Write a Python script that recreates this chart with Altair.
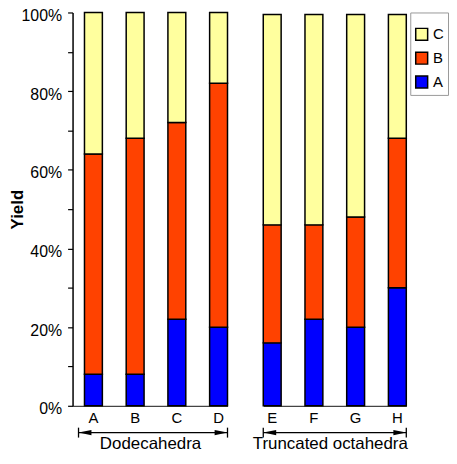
import altair as alt
import pandas as pd

categories = ["A", "B", "C", "D", "E", "F", "G", "H"]
groups = ["Dodecahedra"] * 4 + ["Truncated octahedra"] * 4
yield_A = [8, 8, 22, 20, 16, 22, 20, 30]
yield_B = [56, 60, 50, 62, 30, 24, 28, 38]
yield_C = [36, 32, 28, 18, 53.5, 53.5, 51.5, 31.5]
components = ["C", "B", "A"]
comp_colors = ["#FFFF9E", "#FF4200", "#0000FF"]
y_ticks = [round(i * 0.1, 1) for i in range(11)]

arrow_groups = ["Dodecahedra", "Truncated octahedra"]
arrow_start = ["A", "E"]
arrow_end = ["D", "H"]

rows = []
for cat, grp, a, b, c in zip(categories, groups, yield_A, yield_B, yield_C):
    for comp, val, order in (("A", a, 0), ("B", b, 1), ("C", c, 2)):
        rows.append({"cat": cat, "group": grp, "comp": comp, "value": val / 100.0, "ord": order})
df = pd.DataFrame(rows)
arrows = pd.DataFrame({"group": arrow_groups, "start": arrow_start, "end": arrow_end})

FONT = "Liberation Sans"
H = 396


def panel(grp, width, pad_outer, start_off, title_x, left):
    cats = [c for c, g in zip(categories, groups) if g == grp]
    xscale = alt.Scale(domain=cats, paddingInner=0.5714, paddingOuter=pad_outer, align=1)
    xaxis = alt.Axis(
        title=grp, orient="bottom", labelAngle=0, ticks=False, tickSize=0, labelFontSize=15,
        labelPadding=5, labelBaseline="top", titleFontSize=17, titleFontWeight="normal",
        titleY=43, titleX=title_x, titleAlign="center", titleBaseline="alphabetic",
        domainColor="#444444", domainWidth=1.2, labelColor="black", titleColor="black",
    )
    if left:
        yaxis = alt.Axis(
            title="Yield", values=y_ticks, format=".0%",
            labelExpr="round(datum.value*10) % 2 == 0 ? datum.label : ''",
            tickSize=5, labelFontSize=16, titleFontSize=17, titleFontWeight="bold",
            titleX=-50.7, titleY=H / 2, titleAngle=270, titleAlign="center",
            titleBaseline="alphabetic",
            domainColor="black", tickColor="black", labelColor="black", titleColor="black",
            grid=False, labelPadding=6, labelOffset=3,
            domainWidth=1.5, tickWidth=1.2,
        )
    else:
        yaxis = None
    d = df[df.group == grp]
    bars = alt.Chart(d).mark_bar(stroke="black", strokeWidth=1.5).encode(
        x=alt.X("cat:N", scale=xscale, axis=xaxis),
        y=alt.Y("value:Q", stack="zero", scale=alt.Scale(domain=[0, 1], nice=False), axis=yaxis),
        color=alt.Color(
            "comp:N", scale=alt.Scale(domain=components, range=comp_colors),
            legend=alt.Legend(
                title=" ", titleFontSize=8, titlePadding=2.5, orient="none",
                legendX=340, legendY=0,
                padding=4, strokeColor="#999999", fillColor="white", symbolType="square",
                symbolSize=144, symbolStrokeColor="black", symbolStrokeWidth=1.5,
                labelFontSize=15, labelOffset=4, rowPadding=5, labelColor="black",
                columnPadding=0,
            ),
        ),
        order=alt.Order("ord:Q"),
    )
    a = alt.Chart(arrows[arrows.group == grp])
    hline = a.mark_rule(color="black", strokeWidth=1.3, xOffset=start_off).encode(
        x=alt.X("start:N", bandPosition=0, scale=xscale, axis=xaxis),
        x2=alt.X2("end:N", bandPosition=1),
        y=alt.value(423),
    )
    tick_s = a.mark_rule(color="black", strokeWidth=1.3, xOffset=start_off).encode(
        x=alt.X("start:N", bandPosition=0, scale=xscale, axis=xaxis),
        y=alt.value(418), y2=alt.value(428),
    )
    tick_e = a.mark_rule(color="black", strokeWidth=1.3).encode(
        x=alt.X("end:N", bandPosition=1, scale=xscale, axis=xaxis),
        y=alt.value(418), y2=alt.value(428),
    )
    head_s = a.mark_point(shape="M0,0L2,-0.4L2,0.4Z", filled=True, size=169, color="black",
                          opacity=1, xOffset=start_off).encode(
        x=alt.X("start:N", bandPosition=0, scale=xscale, axis=xaxis),
        y=alt.value(423),
    )
    head_e = a.mark_point(shape="M0,0L-2,-0.4L-2,0.4Z", filled=True, size=169, color="black", opacity=1).encode(
        x=alt.X("end:N", bandPosition=1, scale=xscale, axis=xaxis),
        y=alt.value(423),
    )
    return alt.layer(bars, hline, tick_s, tick_e, head_s, head_e).properties(width=width, height=H)


left = panel("Dodecahedra", 156, 0.1429, -6, 78, True)
right = panel("Truncated octahedra", 144, 0.0, 0, 67, False)

chart = alt.hconcat(left, right, spacing=36, bounds="flush").resolve_scale(
    x="independent", y="independent", color="shared"
).properties(
    padding={"top": -2, "left": 0, "right": 0, "bottom": -1}
).configure(font=FONT).configure_view(stroke=None)

chart.save("out.html", embed_options={"renderer": "svg", "actions": False})
